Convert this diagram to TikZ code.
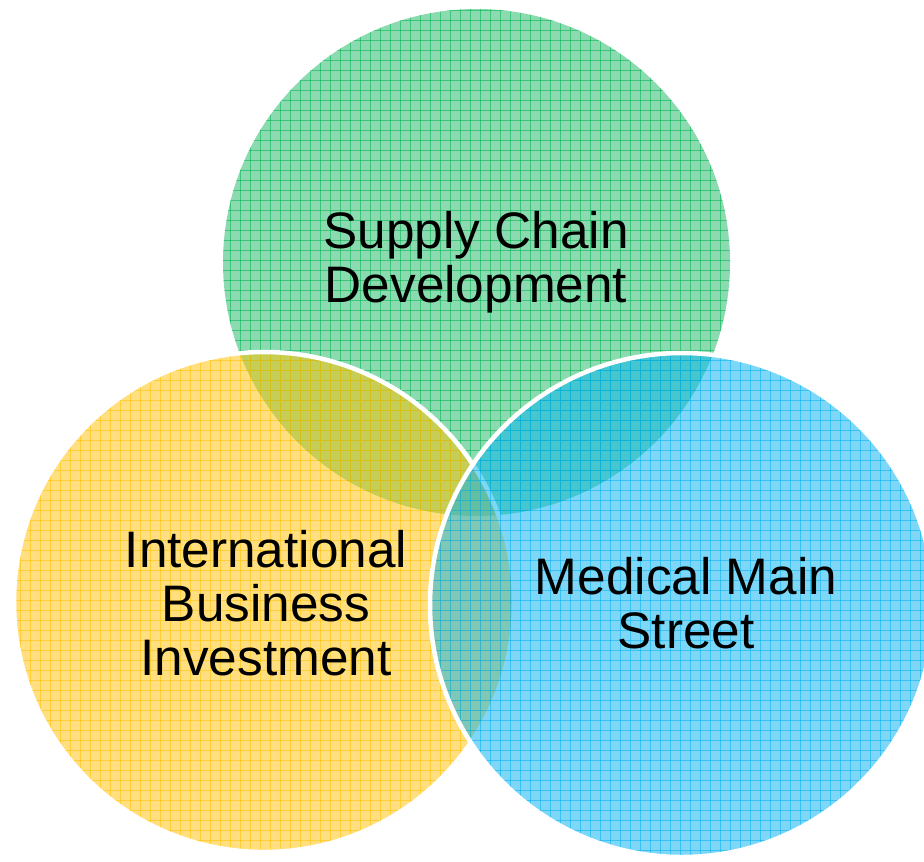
\documentclass[tikz,border=0pt]{standalone}
\usepackage{fontspec}
\setmainfont{Liberation Sans}
\usepackage{tikz}

\definecolor{supplygreen}{HTML}{00B050}
\definecolor{bizyellow}{HTML}{FFC000}
\definecolor{medblue}{HTML}{00B0F0}

\tikzset{
  ring/.style={draw=white, line width=3.2pt},
  gridline/.style={line width=0.55pt, draw opacity=0.55},
  label/.style={align=center, font=\fontsize{36.5}{38.4}\selectfont, text=black}
}

\newcommand{\gridfill}[2]{% #1 colour, #2 centre / radius path
  \begin{scope}
    \clip #2;
    \foreach \g in {0,10,...,920}
      \draw[gridline, #1] (\g,0) -- (\g,861);
    \foreach \g in {0,10,...,860}
      \draw[gridline, #1] (0,\g) -- (924,\g);
  \end{scope}
}

\begin{document}
\begin{tikzpicture}[x=0.025cm, y=-0.025cm]
  \useasboundingbox (0,0) rectangle (924,861);

  % supply chain
  \fill[supplygreen, fill opacity=0.45] (476.5,262.5) circle (253.5);
  \gridfill{supplygreen}{(476.5,262.5) circle (253.5)}

  % business investment
  \fill[bizyellow, fill opacity=0.5] (264,602) circle (250);
  \gridfill{bizyellow}{(264,602) circle (250)}
  \draw[ring] (264,602) circle (250);

  % main street
  \fill[medblue, fill opacity=0.5] (682,605) circle (252);
  \gridfill{medblue}{(682,605) circle (252)}
  \draw[ring] (682,605) circle (252);

  % base = baseline of the last line
  \node[label, anchor=base] (supply) at (476,302) {Supply Chain\\Development};
  \node[label, anchor=base] (business) at (266,675) {International\\Business\\Investment};
  \node[label, anchor=base] (medical) at (686,648) {Medical Main\\Street};
\end{tikzpicture}
\end{document}
